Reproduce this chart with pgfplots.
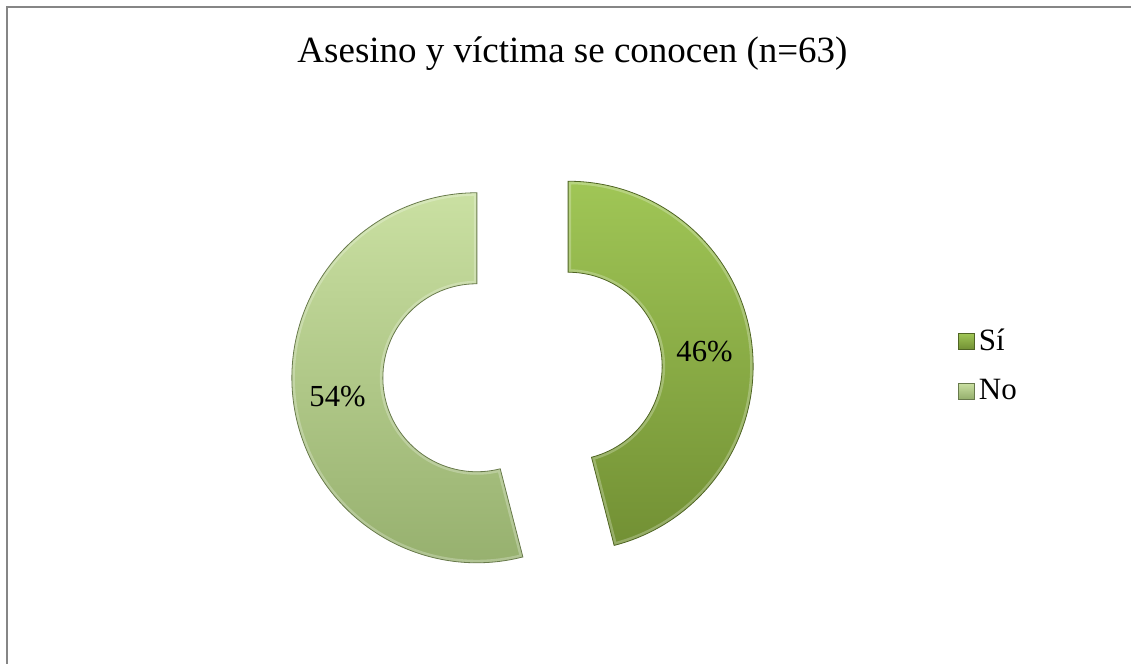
\documentclass[border=0pt]{standalone}
\usepackage{fontspec}
\setmainfont{Liberation Serif}
\usepackage{pgfplots}
\usepackage{pgfplotstable}
\pgfplotsset{compat=1.18}

\definecolor{siTop}{RGB}{160,198,86}
\definecolor{siBot}{RGB}{114,144,52}
\definecolor{noTop}{RGB}{202,224,162}
\definecolor{noBot}{RGB}{148,174,108}
\definecolor{frameGray}{RGB}{134,134,134}

% share of each answer (percent)
\pgfplotstableread{
label value
Si 46
No 54
}\datatable

\begin{document}%
\begin{tikzpicture}
\pgfplotstablegetelem{0}{value}\of\datatable \let\vSi\pgfplotsretval
\pgfplotstablegetelem{1}{value}\of\datatable \let\vNo\pgfplotsretval
% angles: clockwise from 12 o'clock
\pgfmathsetmacro\aSi{90-3.6*\vSi}
\pgfmathsetmacro\aNo{\aSi-3.6*\vNo}
\pgfmathsetmacro\mSi{(90+\aSi)/2}
\pgfmathsetmacro\mNo{(\aSi+\aNo)/2}
% centre of the doughnut and explosion offset (axis units = px)
\def\cx{522.5}\def\cy{292}\def\ex{46}
\def\Ro{185}\def\Ri{94}
\pgfmathsetmacro\sx{\cx+\ex*cos(\mSi)}
\pgfmathsetmacro\sy{\cy+\ex*sin(\mSi)}
\pgfmathsetmacro\nx{\cx+\ex*cos(\mNo)}
\pgfmathsetmacro\ny{\cy+\ex*sin(\mNo)}
\pgfmathsetmacro\sox{\sx}\pgfmathsetmacro\soy{\sy+\Ro}
\pgfmathsetmacro\six{\sx+\Ri*cos(\aSi)}\pgfmathsetmacro\siy{\sy+\Ri*sin(\aSi)}
\pgfmathsetmacro\nox{\nx+\Ro*cos(\aSi)}\pgfmathsetmacro\noy{\ny+\Ro*sin(\aSi)}
\pgfmathsetmacro\nix{\nx}\pgfmathsetmacro\niy{\ny+\Ri}
\pgfmathsetmacro\RoPt{0.5*\Ro}
\pgfmathsetmacro\RiPt{0.5*\Ri}
\begin{axis}[
    scale only axis,
    width=565.5pt, height=332pt,
    xmin=0, xmax=1131, ymin=0, ymax=664,
    hide axis,
    disabledatascaling,
    legend style={at={(0.847,0.449)}, anchor=west, draw=none, fill=none,
      font=\fontsize{15.5}{18}\selectfont, row sep=9pt, inner sep=0pt},
    legend cell align=left,
  ]
  \path (axis cs:0,0) rectangle (axis cs:1131,664);
  \draw[frameGray, line width=1pt] (axis cs:7,0) -- (axis cs:7,657) -- (axis cs:1131,657);

  % Sí
  \shade[top color=siTop, bottom color=siBot]
    (axis cs:\sox,\soy) arc[start angle=90, end angle=\aSi, radius=\RoPt pt]
    -- (axis cs:\six,\siy) arc[start angle=\aSi, end angle=90, radius=\RiPt pt] -- cycle;
  \begin{scope}
    \clip (axis cs:\sox,\soy) arc[start angle=90, end angle=\aSi, radius=\RoPt pt]
      -- (axis cs:\six,\siy) arc[start angle=\aSi, end angle=90, radius=\RiPt pt] -- cycle;
    \draw[white, opacity=0.25, line width=3pt]
      (axis cs:\sox,\soy) arc[start angle=90, end angle=\aSi, radius=\RoPt pt]
      -- (axis cs:\six,\siy) arc[start angle=\aSi, end angle=90, radius=\RiPt pt] -- cycle;
  \end{scope}
  \draw[siBot!70!black, line width=0.4pt]
    (axis cs:\sox,\soy) arc[start angle=90, end angle=\aSi, radius=\RoPt pt]
    -- (axis cs:\six,\siy) arc[start angle=\aSi, end angle=90, radius=\RiPt pt] -- cycle;
  % No
  \shade[top color=noTop, bottom color=noBot]
    (axis cs:\nox,\noy) arc[start angle=\aSi, end angle=\aNo, radius=\RoPt pt]
    -- (axis cs:\nix,\niy) arc[start angle=\aNo, end angle=\aSi, radius=\RiPt pt] -- cycle;
  \begin{scope}
    \clip (axis cs:\nox,\noy) arc[start angle=\aSi, end angle=\aNo, radius=\RoPt pt]
      -- (axis cs:\nix,\niy) arc[start angle=\aNo, end angle=\aSi, radius=\RiPt pt] -- cycle;
    \draw[white, opacity=0.25, line width=3pt]
      (axis cs:\nox,\noy) arc[start angle=\aSi, end angle=\aNo, radius=\RoPt pt]
      -- (axis cs:\nix,\niy) arc[start angle=\aNo, end angle=\aSi, radius=\RiPt pt] -- cycle;
  \end{scope}
  \draw[noBot!70!black, line width=0.4pt]
    (axis cs:\nox,\noy) arc[start angle=\aSi, end angle=\aNo, radius=\RoPt pt]
    -- (axis cs:\nix,\niy) arc[start angle=\aNo, end angle=\aSi, radius=\RiPt pt] -- cycle;

  \node[anchor=base, font=\fontsize{15.3}{18}\selectfont] at (axis cs:704.5,302) {\vSi\%};
  \node[anchor=base, font=\fontsize{15.3}{18}\selectfont] at (axis cs:337.5,257) {\vNo\%};

  \node[anchor=base, font=\fontsize{18.5}{22}\selectfont] at (axis cs:572.5,601)
    {Asesino y víctima se conocen (n=63)};

  \addlegendimage{legend image code/.code={
    \shade[top color=siTop, bottom color=siBot, draw=siBot!70!black, line width=0.3pt]
      (0pt,-4pt) rectangle (8pt,4pt);}}
  \addlegendentry{Sí}
  \addlegendimage{legend image code/.code={
    \shade[top color=noTop, bottom color=noBot, draw=noBot!70!black, line width=0.3pt]
      (0pt,-4pt) rectangle (8pt,4pt);}}
  \addlegendentry{No}
\end{axis}
\end{tikzpicture}%
\end{document}
